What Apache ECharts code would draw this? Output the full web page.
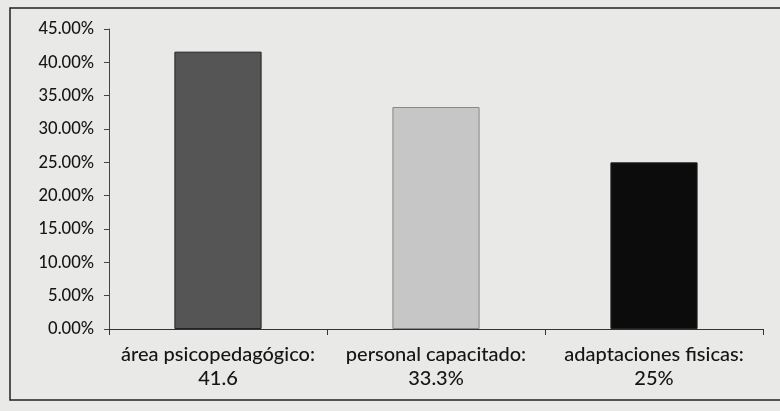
<!DOCTYPE html>
<html>
<head>
<meta charset="utf-8">
<script src="https://cdn.jsdelivr.net/npm/echarts@6/dist/echarts.min.js"></script>
<style>
html,body{margin:0;padding:0;background:#e9e9e8;}
#c{width:780px;height:411px;}
</style>
</head>
<body>
<div id="c"></div>
<script>
var categories = ['área psicopedagógico:\n41.6', 'personal capacitado:\n33.3%', 'adaptaciones fisicas:\n25%'];
var values = [41.6, 33.3, 25];
var barColors = ['#565556', '#c6c6c6', '#0c0c0c'];
var yTicksMax = 45;
var yTickStep = 5;

var chart = echarts.init(document.getElementById('c'));
chart.setOption({
  backgroundColor: '#e9e9e8',
  animation: false,
  graphic: [{
    type: 'rect',
    shape: {x: 10, y: 8, width: 800, height: 392},
    style: {fill: 'none', stroke: '#222', lineWidth: 1.5},
    silent: true
  }],
  grid: {left: 109, right: 17, top: 29, bottom: 82, containLabel: false},
  xAxis: {
    type: 'category',
    data: categories,
    axisLine: {lineStyle: {color: '#333', width: 1}},
    axisTick: {show: true, length: 6, lineStyle: {color: '#333'}},
    axisLabel: {
      color: '#151515', fontFamily: 'Lato', fontSize: 20, fontWeight: 500,
      lineHeight: 24, margin: 14, interval: 0
    }
  },
  yAxis: {
    type: 'value',
    min: 0, max: yTicksMax, interval: yTickStep,
    splitLine: {show: false},
    axisLine: {show: true, lineStyle: {color: '#444', width: 1}},
    axisTick: {show: true, length: 5, lineStyle: {color: '#444'}},
    axisLabel: {
      color: '#151515', fontFamily: 'Lato', fontSize: 16.5, fontWeight: 500, margin: 15,
      formatter: function (v) { return v.toFixed(2) + '%'; }
    }
  },
  series: [{
    type: 'bar',
    barWidth: '40%',
    data: values.map(function (v, i) {
      return {value: v, itemStyle: {color: barColors[i], borderColor: i === 1 ? '#888' : '#222', borderWidth: 1}};
    })
  }]
});
</script>
</body>
</html>
